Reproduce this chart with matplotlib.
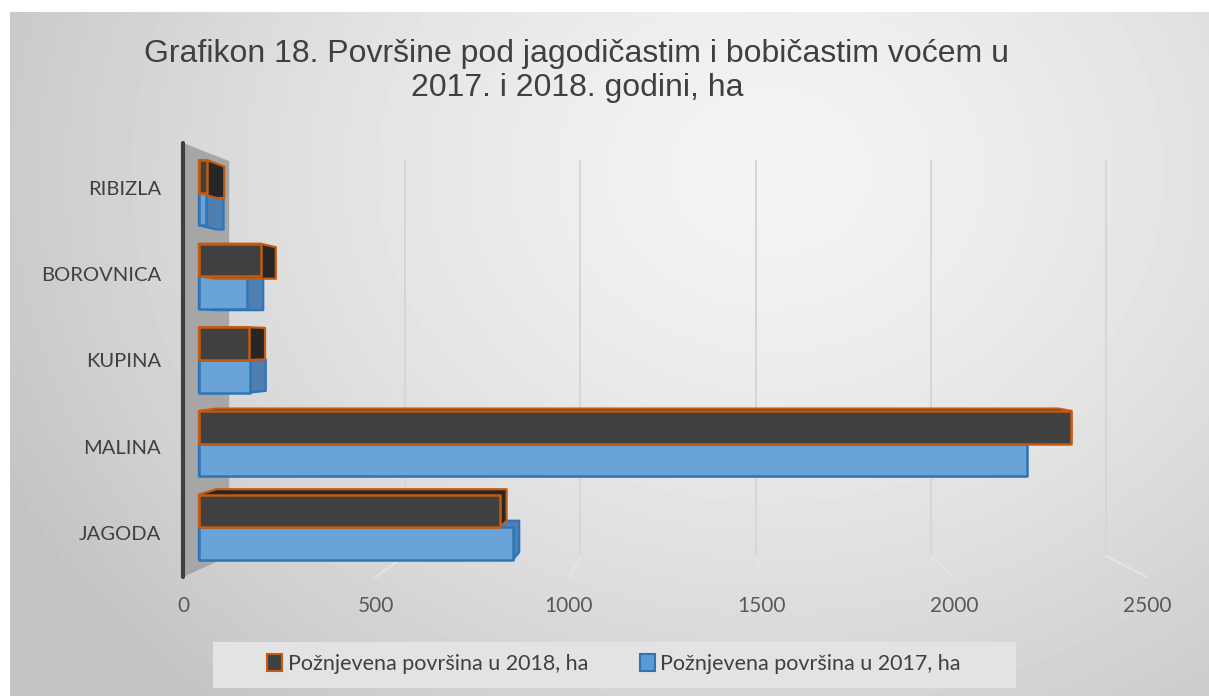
import numpy as np
import matplotlib
matplotlib.use("Agg")
import matplotlib.pyplot as plt
from matplotlib.patches import Polygon, Rectangle, Patch

# data (ha)
categories = ["JAGODA", "MALINA", "KUPINA", "BOROVNICA", "RIBIZLA"]
harvest_2018 = [805, 2335, 135, 165, 22]
harvest_2017 = [840, 2215, 137, 130, 20]
x_ticks = [0, 500, 1000, 1500, 2000, 2500]
label_2018 = "Požnjevena površina u 2018, ha"
label_2017 = "Požnjevena površina u 2017, ha"
title = "Grafikon 18. Površine pod jagodičastim i bobičastim voćem u\n2017. i 2018. godini, ha"

W, H = 1209, 696
fig = plt.figure(figsize=(W / 100, H / 100), dpi=100)
fig.patch.set_facecolor("white")

# soft radial gradient background
bg = fig.add_axes([10 / W, 0, (W - 10) / W, (H - 12) / H])
yy, xx = np.mgrid[0:684, 0:1199]
r = np.sqrt(((xx - 760) / 760) ** 2 + ((yy - 160) / 640) ** 2)
shade = np.clip(243 - 40 * r ** 1.5, 196, 243) / 255
bg.imshow(shade, cmap="gray", vmin=0, vmax=1, aspect="auto", extent=[0, 1, 0, 1],
          interpolation="bilinear")
bg.set_xlim(0, 1)
bg.set_ylim(0, 1)
bg.axis("off")

ax = fig.add_axes([183 / W, (H - 577) / H, 964 / W, 434 / H])
ax.set_xlim(0, 2500)
ax.set_ylim(-0.51, 4.52)
ax.patch.set_visible(False)
for s in ["top", "right", "bottom"]:
    ax.spines[s].set_visible(False)
ax.spines["left"].set_color("#404040")
ax.spines["left"].set_linewidth(3.0)
ax.spines["left"].set_capstyle("round")
ax.spines["left"].set_zorder(6)

ypos = np.arange(len(categories))
ax.set_xticks(x_ticks)
ax.set_yticks(ypos, categories)
ax.tick_params(axis="x", length=0, pad=14, labelsize=15, labelcolor="#595959")
ax.tick_params(axis="y", length=0, pad=16, labelsize=14.5, labelcolor="#404040")
for lab in ax.get_xticklabels() + ax.get_yticklabels():
    lab.set_family("Lato")

# fake 3D: project points toward a vanishing point
vpx, vpy = ax.transData.inverted().transform((696, H - 344))


def proj(x, y, t):
    return (x + t * (vpx - x), y + t * (vpy - y))


Y0, Y1 = ax.get_ylim()
WALL_T = 0.09
wall = [proj(0, Y0, 0), proj(0, Y1, 0), proj(0, Y1, WALL_T), proj(0, Y0, WALL_T)]
ax.add_patch(Polygon(wall, closed=True, facecolor="#a6a6a6", edgecolor="none", zorder=1, clip_on=False))

for v in x_ticks[1:]:
    top = proj(v, Y1, WALL_T)
    bot = proj(v, Y0, WALL_T)
    front = proj(v, Y0, 0)
    ax.plot([top[0], bot[0]], [top[1], bot[1]], color="#d6d6d6", lw=1.4, zorder=1, clip_on=False)
    ax.plot([bot[0], front[0]], [bot[1], front[1]], color="#e4e4e4", lw=1.4, zorder=1, clip_on=False)


def hull(pts):
    pts = sorted(set(pts))
    def cross(o, a, b):
        return (a[0] - o[0]) * (b[1] - o[1]) - (a[1] - o[1]) * (b[0] - o[0])
    lower, upper = [], []
    for p in pts:
        while len(lower) >= 2 and cross(lower[-2], lower[-1], p) <= 0:
            lower.pop()
        lower.append(p)
    for p in reversed(pts):
        while len(upper) >= 2 and cross(upper[-2], upper[-1], p) <= 0:
            upper.pop()
        upper.append(p)
    return lower[:-1] + upper[:-1]


T0, T1 = 0.031, 0.065
BAR_H = 0.39


def bar3d(v, y0, y1, face, side, edge, z):
    corners = [(0, y0), (v, y0), (v, y1), (0, y1)]
    fr = [proj(x, y, T0) for x, y in corners]
    bk = [proj(x, y, T1) for x, y in corners]
    ax.add_patch(Polygon(hull(fr + bk), closed=True, facecolor=side, edgecolor=edge,
                         lw=1.6, joinstyle="round", zorder=z, clip_on=False))
    ax.add_patch(Polygon(fr, closed=True, facecolor=face, edgecolor=edge,
                         lw=1.8, joinstyle="round", zorder=z + 0.5, clip_on=False))


for i, (v17, v18) in enumerate(zip(harvest_2017, harvest_2018)):
    z = 3 + (len(categories) - i)
    bar3d(v17, i - BAR_H, i, "#6aa3d8", "#4f7eb0", "#2e75b6", z)
    bar3d(v18, i, i + BAR_H, "#404040", "#262626", "#c55a11", z + 1)

# legend
fig.patches.append(Rectangle((213 / W, (H - 688) / H), 803 / W, 46 / H, transform=fig.transFigure,
                             facecolor="#e3e3e3", edgecolor="none", zorder=0))
handles = [Patch(facecolor="#404040", edgecolor="#c55a11", lw=1.5, label=label_2018),
           Patch(facecolor="#5b9bd5", edgecolor="#2e75b6", lw=1.5, label=label_2017)]
leg = fig.legend(handles=handles, loc="center", bbox_to_anchor=(614 / W, (H - 664) / H), ncol=2,
                 frameon=False, handlelength=0.7, handleheight=0.8, handletextpad=0.25,
                 columnspacing=2.4, prop={"family": "Lato", "size": 15.5}, labelcolor="#404040")

fig.text(577 / W, (H - 71) / H, title, ha="center", va="center", fontsize=23,
         family="Liberation Sans", color="#404040", linespacing=1.18)

fig.savefig("out.png", dpi=100)
